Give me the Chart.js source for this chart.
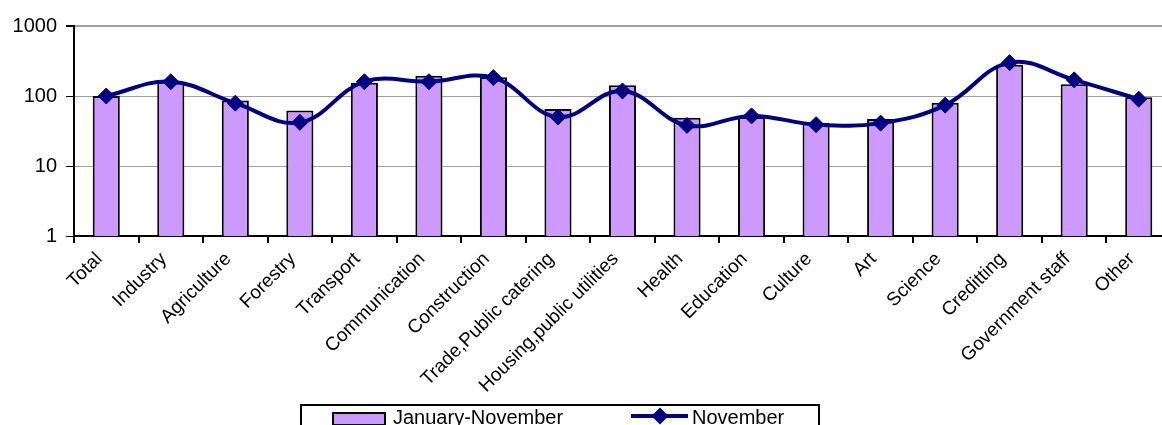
<!DOCTYPE html>
<html>
<head>
<meta charset="utf-8">
<script src="https://cdn.jsdelivr.net/npm/chart.js@4/dist/chart.umd.min.js"></script>
<style>
    html, body { margin: 0; padding: 0; background: #fff; overflow: hidden; }
    #wrap { position: relative; width: 1162px; height: 425px; overflow: hidden; }
    #chart { position: absolute; left: 0; top: 0; }
    #legend {
        position: absolute; left: 300px; top: 404px; width: 520px; height: 40px;
        border: 2px solid #000; box-sizing: border-box;
        font-family: "Liberation Sans", Arial, sans-serif; font-size: 20px; color: #000;
    }
    .item { position: absolute; top: 0px; line-height: 22px; white-space: nowrap; }
    .swatch { position: absolute; top: 6px; width: 54px; height: 14px; background: #cc99ff; border: 2px solid #000; box-sizing: border-box; }
    .lineSw { position: absolute; top: 8px; width: 57px; height: 4px; background: #000080; }
    .dia { position: absolute; top: 4px; width: 12px; height: 12px; background: #000080; transform: rotate(45deg); }
</style>
</head>
<body>
<div id="wrap">
    <canvas id="chart" width="1180" height="425"></canvas>
    <div id="legend">
        <div class="swatch" style="left:30px"></div>
        <div class="item" style="left:91px">January-November</div>
        <div class="lineSw" style="left:329px"></div>
        <div class="dia" style="left:352px"></div>
        <div class="item" style="left:390px">November</div>
    </div>
</div>
<script>
// 分类
const categories = ['Total', 'Industry', 'Agriculture', 'Forestry', 'Transport', 'Communication',
    'Construction', 'Trade,Public catering', 'Housing,public utilities', 'Health', 'Education',
    'Culture', 'Art', 'Science', 'Creditting', 'Government staff', 'Other'];

// 一月至十一月（柱）
const janNov = [100, 160, 86, 62, 155, 195, 185, 65, 142, 49, 50, 41, 47, 80, 280, 147, 96];

// 十一月（线）
const november = [100, 160, 79, 42, 160, 160, 183, 50, 118, 38, 52, 39, 41, 74, 300, 170, 90];

// Y 轴刻度
const yTicks = [1, 10, 100, 1000];

const fontFamily = '"Liberation Sans", Arial, sans-serif';

const ctx = document.getElementById('chart').getContext('2d');
const chart = new Chart(ctx, {
    type: 'bar',
    data: {
        labels: categories,
        datasets: [{
            type: 'line',
            label: 'November',
            data: november,
            borderColor: '#000080',
            backgroundColor: '#000080',
            borderWidth: 4,
            tension: 0.4,
            pointStyle: 'rectRot',
            pointRadius: 8,
            pointBorderWidth: 1,
            pointBackgroundColor: '#000080',
            pointBorderColor: '#000080',
            order: 0
        }, {
            type: 'bar',
            label: 'January-November',
            data: janNov,
            backgroundColor: '#cc99ff',
            borderColor: '#000',
            borderWidth: 2,
            categoryPercentage: 1,
            barPercentage: 0.42,
            order: 1
        }]
    },
    options: {
        responsive: false,
        animation: false,
        devicePixelRatio: 1,
        layout: { padding: { top: 26, right: 4, left: 0, bottom: 0 } },
        plugins: {
            legend: { display: false },
            tooltip: { enabled: false }
        },
        scales: {
            x: {
                grid: { drawOnChartArea: false, color: '#000', tickColor: '#000', tickLength: 7, lineWidth: 2 },
                border: { color: '#000', width: 2 },
                ticks: {
                    color: '#000',
                    font: { family: fontFamily, size: 19 },
                    minRotation: 45,
                    maxRotation: 45,
                    autoSkip: false,
                    padding: 5,
                    labelOffset: -7
                },
                afterFit: function(scale) { scale.height = 189; }
            },
            y: {
                type: 'logarithmic',
                min: 1,
                max: 1000,
                grid: {
                    color: '#a0a0a0',
                    tickColor: '#000',
                    tickLength: 8,
                    lineWidth: function(c) { return c.tick && c.tick.value === 1000 ? 2 : 1; }
                },
                border: { color: '#000', width: 2 },
                ticks: {
                    color: '#000',
                    font: { family: fontFamily, size: 20 },
                    padding: 9,
                    callback: function(value) { return String(value); }
                },
                afterBuildTicks: function(scale) {
                    scale.ticks = yTicks.map(v => ({ value: v }));
                },
                afterFit: function(scale) { scale.width = 74; }
            }
        }
    }
});
</script>
</body>
</html>
